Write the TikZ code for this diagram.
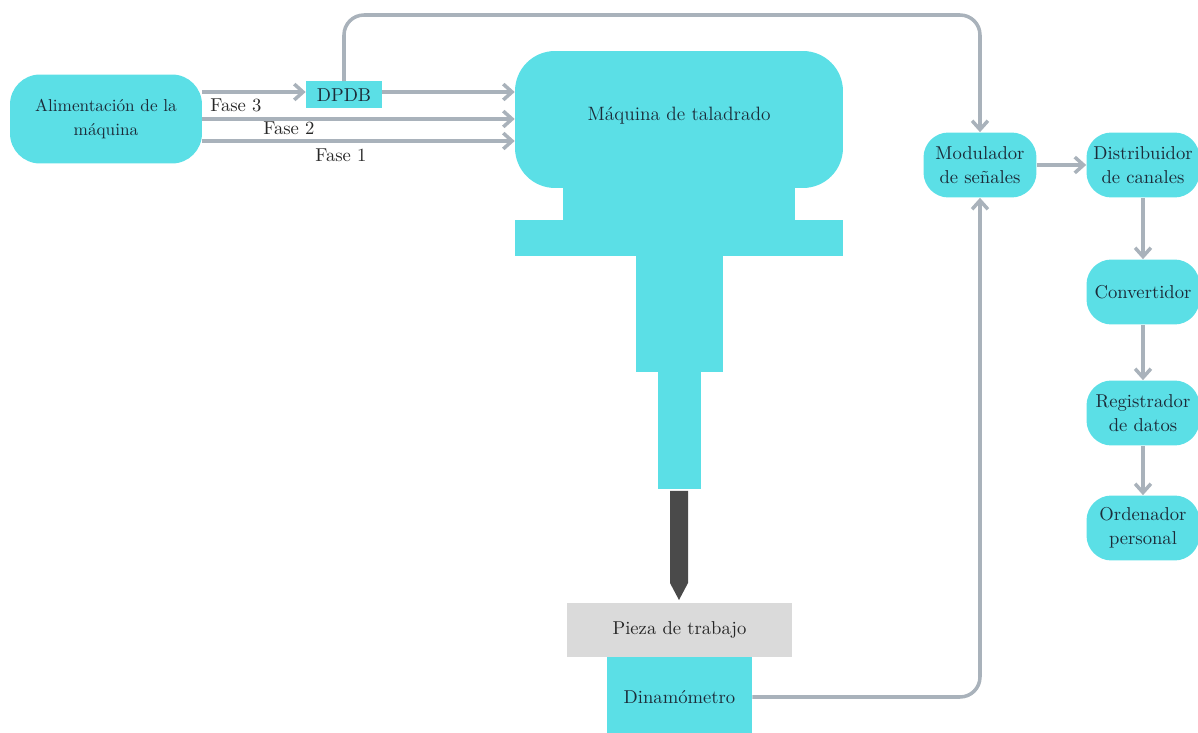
\documentclass[tikz,border=0pt]{standalone}
\usepackage{fontspec}
\usetikzlibrary{arrows.meta}
\definecolor{cy}{HTML}{5BDFE6}
\definecolor{ln}{HTML}{A9B2BB}
\definecolor{tx}{HTML}{1C2B39}
\definecolor{pz}{HTML}{DADADA}
\definecolor{dr}{HTML}{4A4A4A}
\tikzset{
  txt/.style={font=\fontsize{10.6}{13.5}\selectfont, text=tx, align=center, inner sep=0pt},
  pill/.style={txt, fill=cy, rounded corners=0.5cm, minimum width=2.26cm, minimum height=1.3cm},
  conn/.style={draw=ln, line width=2pt, rounded corners=0.4cm},
  arr/.style={conn, -{Straight Barb[length=5pt,width=9pt,line width=2pt]}},
  lbl/.style={font=\fontsize{10.6}{13.5}\selectfont, text=black!85, inner sep=0pt}
}
\begin{document}
\begin{tikzpicture}[x=0.02cm,y=-0.02cm]
\useasboundingbox (0,0) rectangle (1198,733);
% machine body parts
\fill[cy] (563,180) rectangle (795,221);
\fill[cy] (515,220) rectangle (843,256);
\fill[cy] (636,255) rectangle (723,372);
\fill[cy] (658,371) rectangle (701,489);
\fill[dr] (670,491) -- (688,491) -- (688,583) -- (679,600) -- (670,583) -- cycle;
% nodes
\node[txt, fill=cy, rounded corners=0.6cm, minimum width=3.84cm, minimum height=1.78cm, font=\fontsize{9.8}{13.5}\selectfont] (alim) at (106,119) {Alimentación de la\\máquina};
\node[txt, fill=cy, minimum width=1.52cm, minimum height=0.54cm] (dpdb) at (344,95) {DPDB};
\node[txt, fill=cy, rounded corners=0.8cm, minimum width=6.56cm, minimum height=2.74cm] (maq) at (679,119.5) {};
\node[txt, font=\fontsize{11}{14}\selectfont] (maqt) at (679,116) {Máquina de taladrado};
\node[txt, fill=pz, minimum width=4.5cm, minimum height=1.08cm, text=black!85] (pieza) at (679.5,630) {Pieza de trabajo};
\node[txt, fill=cy, minimum width=2.9cm, minimum height=1.52cm] (din) at (679.5,695) {};
\node[txt] (dint) at (679.5,697) {Dinamómetro};
\node[pill] (mod) at (980,165) {Modulador\\de señales};
\node[pill] (dist) at (1143,165) {Distribuidor\\de canales};
\node[pill] (conv) at (1143,292) {Convertidor};
\node[pill] (reg) at (1143,413) {Registrador\\de datos};
\node[pill] (ord) at (1143,528) {Ordenador\\personal};
% labels
\node[lbl] (f3) at (236,105) {Fase 3};
\node[lbl] (f2) at (289,128) {Fase 2};
\node[lbl] (f1) at (341,155) {Fase 1};
% connectors
\coordinate (y3) at (0,92);
\coordinate (y2) at (0,119);
\coordinate (y1) at (0,141);
\draw[arr] (alim.east |- y3) -- (dpdb.west |- y3);
\draw[arr] (dpdb.east |- y3) -- (maq.west |- y3);
\draw[arr] (alim.east |- y2) -- (maq.west |- y2);
\draw[arr] (alim.east |- y1) -- (maq.west |- y1);
\coordinate (top) at (0,15);
\draw[arr] (dpdb.north) -- (dpdb.north |- top) -- (mod.north |- top) -- (mod.north);
\draw[arr] (din.east |- dint) -- (mod.south |- dint) -- (mod.south);
\draw[arr] (mod) -- (dist);
\draw[arr] (dist) -- (conv);
\draw[arr] (conv) -- (reg);
\draw[arr] (reg) -- (ord);
\end{tikzpicture}
\end{document}
